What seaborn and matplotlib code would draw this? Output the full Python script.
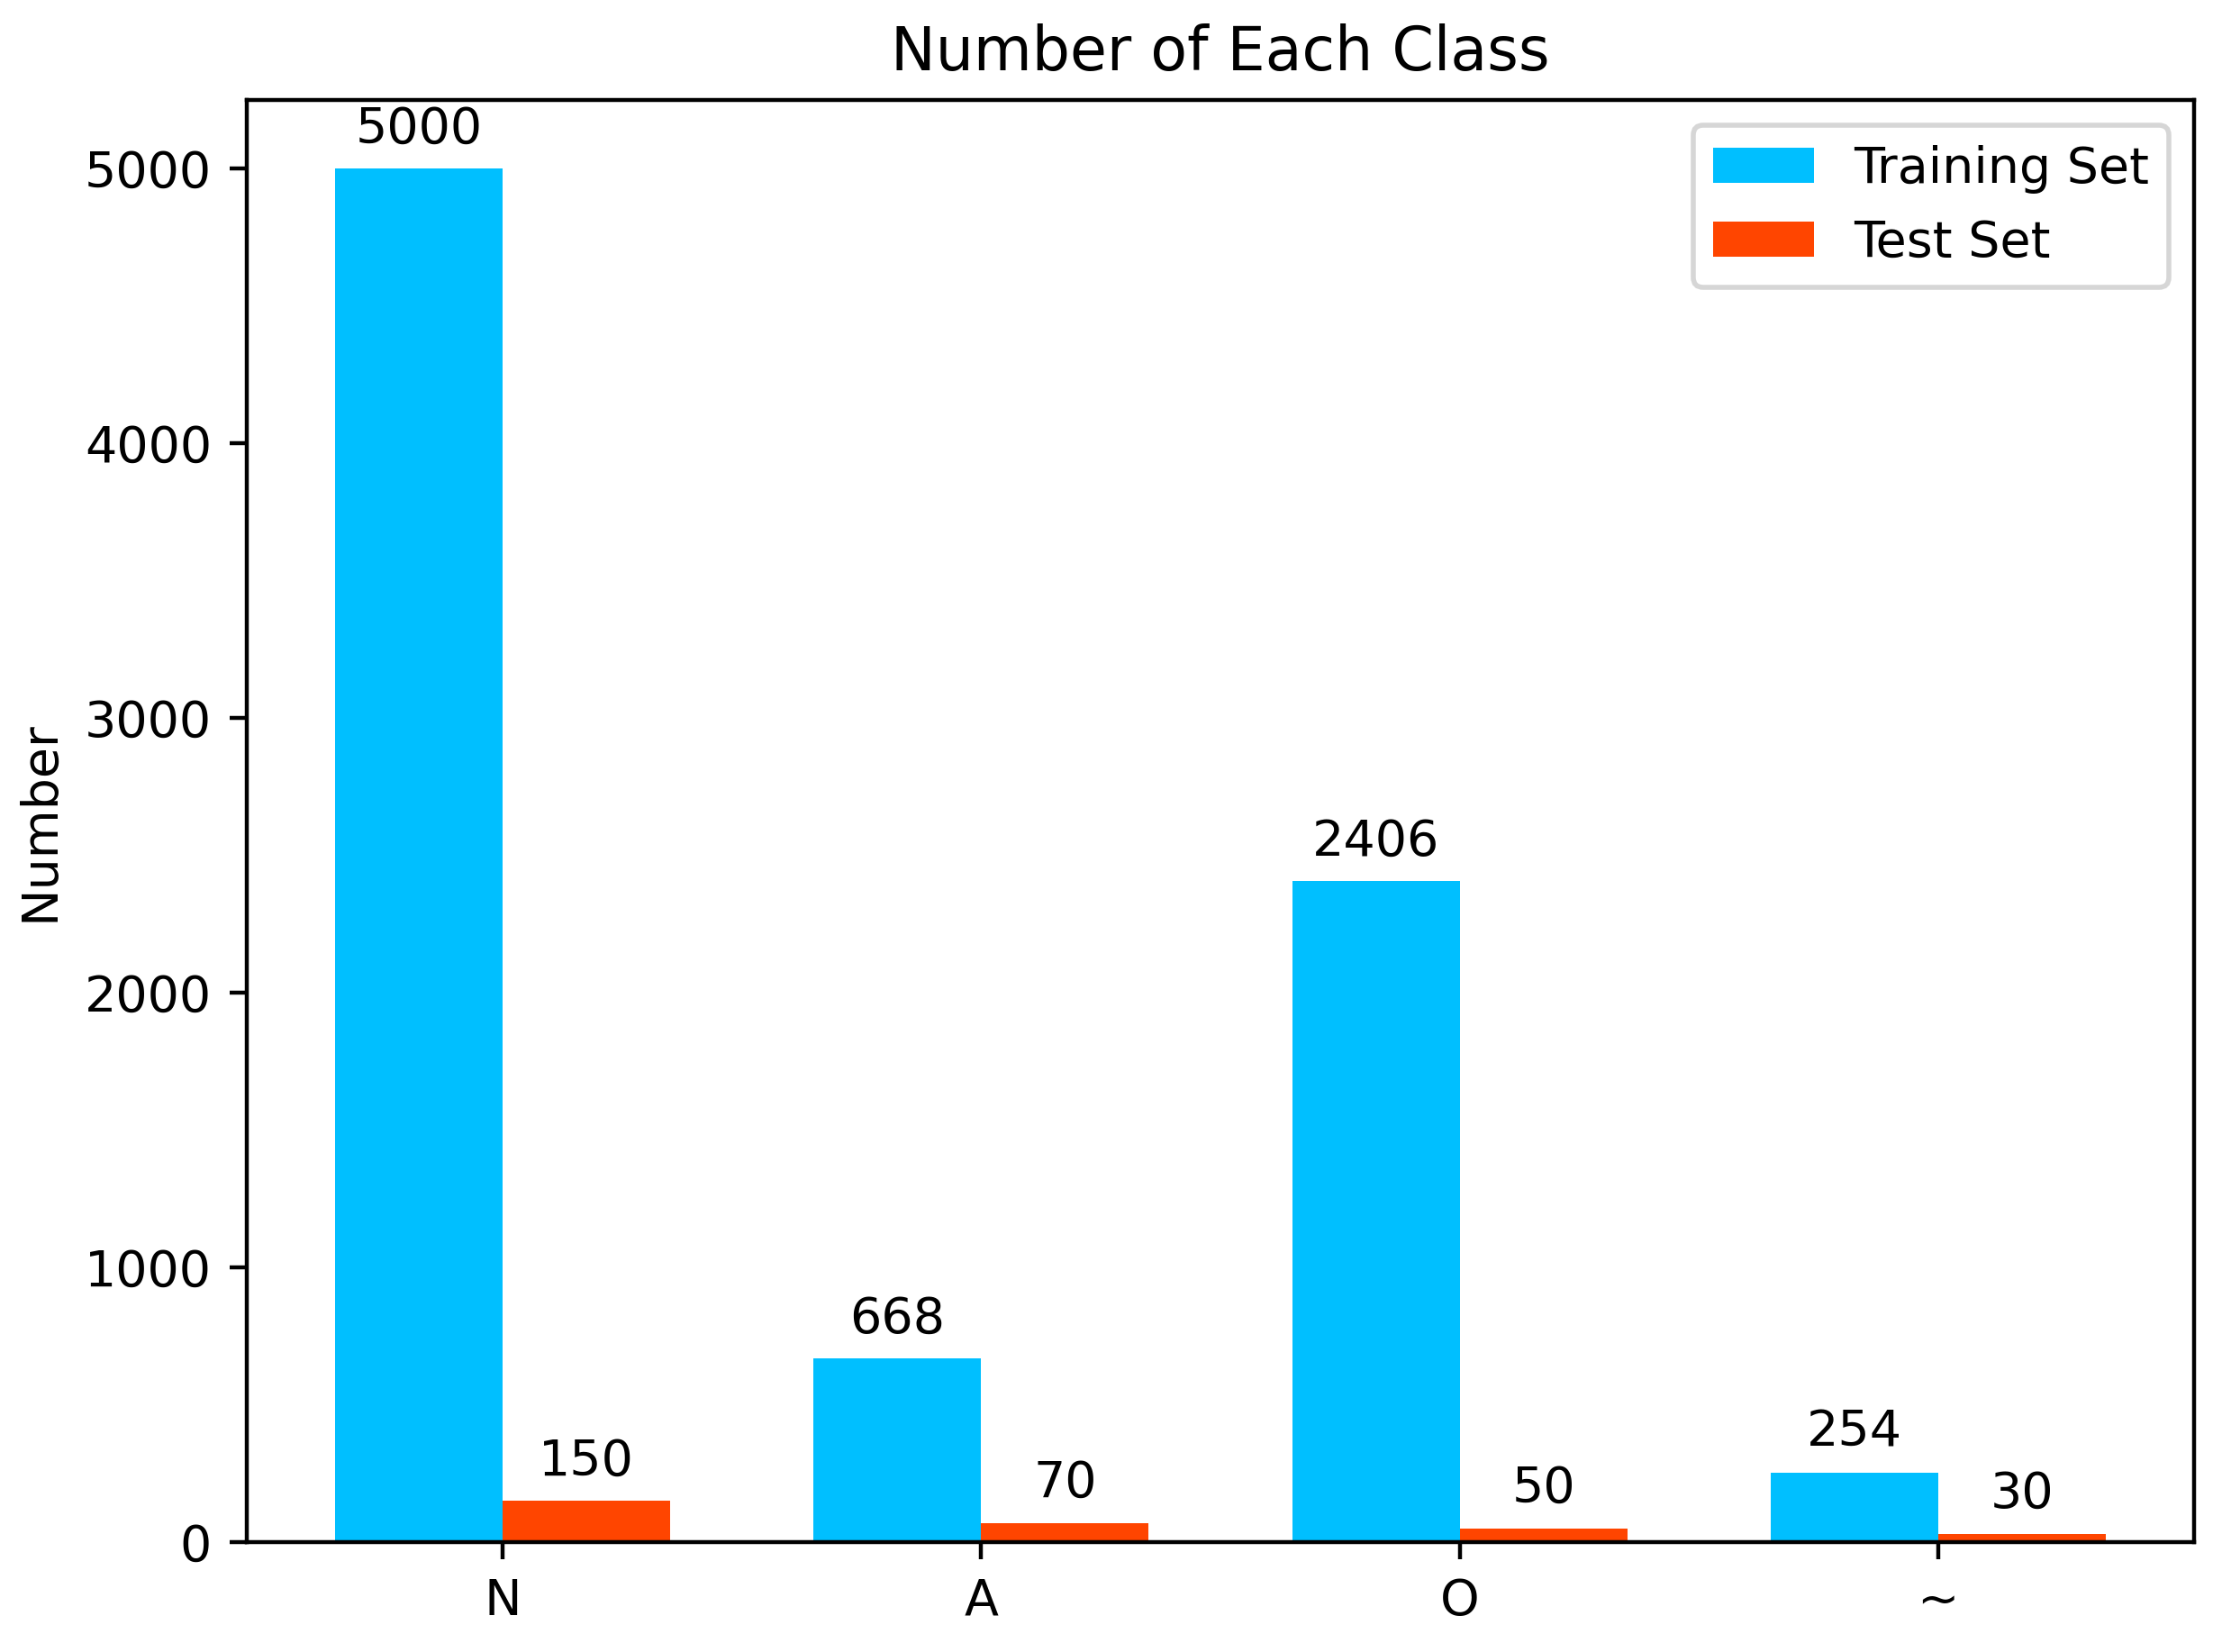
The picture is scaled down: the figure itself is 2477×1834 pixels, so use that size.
import pandas as pd
import matplotlib
matplotlib.use("Agg")
import matplotlib.pyplot as plt
import seaborn as sns

classes = ["N", "A", "O", "~"]
train_counts = [5000, 668, 2406, 254]
test_counts = [150, 70, 50, 30]
set_names = ["Training Set", "Test Set"]
colors = ["#00BFFF", "#FF4500"]

df = pd.DataFrame({
    "cls": classes * 2,
    "count": train_counts + test_counts,
    "set": [set_names[0]] * len(classes) + [set_names[1]] * len(classes),
})

fig = plt.figure(figsize=(2477 / 400, 1834 / 400), dpi=400)
ax = fig.add_axes([274 / 2477, 1 - 1712 / 1834, (2436 - 274) / 2477, (1712 - 111) / 1834])

sns.barplot(data=df, x="cls", y="count", hue="set", order=classes, hue_order=set_names,
            palette=colors, saturation=1, width=0.7, legend=False, errorbar=None, ax=ax)

for c in ax.containers:
    ax.bar_label(c, padding=3)

ax.set_xlim(-0.535, 3.535)
ax.set_ylim(0, 5250)
ax.set_xlabel("")
ax.set_ylabel("Number")
ax.set_title("Number of Each Class")
ax.legend(ax.containers, set_names, loc="upper right")

fig.savefig("out.png", dpi=400)
